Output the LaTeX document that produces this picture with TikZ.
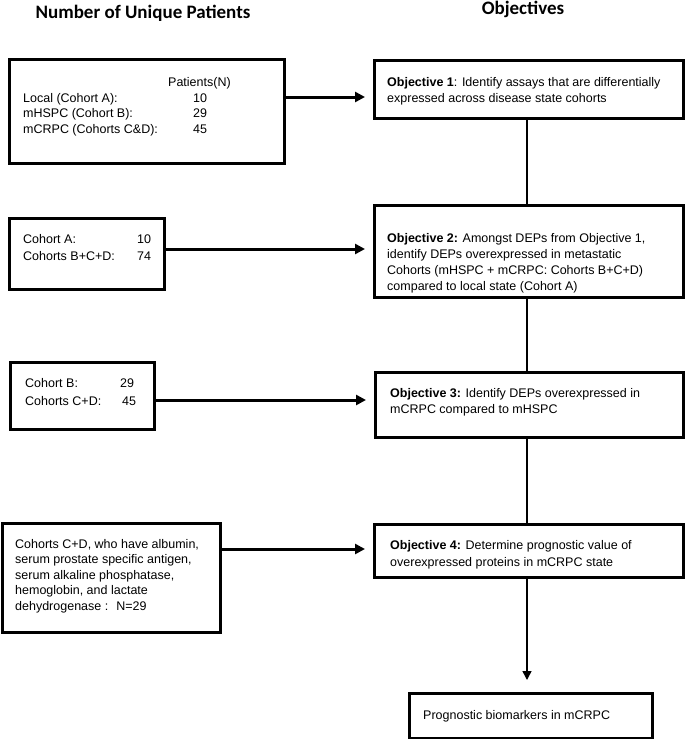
\documentclass[tikz,border=0pt]{standalone}
\usepackage{fontspec}
\setmainfont{Liberation Sans}
\newfontfamily\titlefont{Carlito}
\usetikzlibrary{arrows.meta}
\begin{document}
\begin{tikzpicture}[x=1pt,y=-1pt,
  box/.style={draw, line width=3pt, inner sep=0pt, outer sep=0pt, anchor=north west},
  txt/.style={anchor=base west, inner sep=0pt, font=\fontsize{12.5}{16}\selectfont, align=left},
  ttl/.style={font=\titlefont\bfseries\fontsize{19}{22}\selectfont, inner sep=0pt},
  harrow/.style={line width=3pt, -{Triangle[length=10pt,width=10pt]}, shorten >=9pt},
  vline/.style={line width=1.5pt},
  varrow/.style={line width=1.5pt, -{Triangle[length=9pt,width=9pt]}, shorten >=13pt},
]
\useasboundingbox (0,0) rectangle (685,739);
% titles
\node[ttl] (t1) at (143,13) {Number of Unique Patients};
\node[ttl] (t2) at (523,9) {Objectives};
% left boxes
\node[box, minimum width=275pt, minimum height=104pt] (L1) at (9,59) {};
\node[box, minimum width=155pt, minimum height=71pt] (L2) at (9,218) {};
\node[box, minimum width=144pt, minimum height=67pt] (L3) at (10,362) {};
\node[box, minimum width=218pt, minimum height=109pt] (L4) at (2,523) {};
% objective boxes
\node[box, minimum width=309pt, minimum height=58pt] (O1) at (374,60) {};
\node[box, minimum width=309pt, minimum height=92pt] (O2) at (374,205) {};
\node[box, minimum width=308pt, minimum height=65pt] (O3) at (375,372) {};
\node[box, minimum width=309pt, minimum height=53pt] (O4) at (374,524) {};
\node[box, minimum width=243pt, minimum height=45pt] (F) at (409,693) {};
% L1 text
\node[txt] (p0) at (168,86) {Patients(N)};
\node[txt] (p1) at (23,102) {Local (Cohort A):};
\node[txt] (p1n) at (193,102) {10};
\node[txt] (p2) at (23,117) {mHSPC (Cohort B):};
\node[txt] (p2n) at (193,117) {29};
\node[txt] (p3) at (23,133) {mCRPC (Cohorts C\&D):};
\node[txt] (p3n) at (193,133) {45};
% L2 text
\node[txt] (q1) at (23,243) {Cohort A:};
\node[txt] (q1n) at (137,243) {10};
\node[txt] (q2) at (23,260) {Cohorts B+C+D:};
\node[txt] (q2n) at (137,260) {74};
% L3 text
\node[txt] (r1) at (25,387) {Cohort B:};
\node[txt] (r1n) at (120,387) {29};
\node[txt] (r2) at (25,405) {Cohorts C+D:};
\node[txt] (r2n) at (122,405) {45};
% L4 text (anchor = baseline of last line)
\node[txt, font=\fontsize{12.5}{15.5}\selectfont] (s1) at (15,610) {Cohorts C+D, who have albumin,\\serum prostate specific antigen,\\serum alkaline phosphatase,\\hemoglobin, and lactate\\dehydrogenase :~ N=29};
% objective texts (anchor = baseline of last line)
\node[txt] (o1t) at (387,102) {\textbf{Objective 1}: Identify assays that are differentially\\expressed across disease state cohorts};
\node[txt] (o2t) at (387,290) {\textbf{Objective 2:} Amongst DEPs from Objective 1,\\identify DEPs overexpressed in metastatic\\Cohorts (mHSPC + mCRPC: Cohorts B+C+D)\\compared to local state (Cohort A)};
\node[txt] (o3t) at (390,413) {\textbf{Objective 3:} Identify DEPs overexpressed in\\mCRPC compared to mHSPC};
\node[txt, font=\fontsize{12.5}{17}\selectfont] (o4t) at (390,566) {\textbf{Objective 4:} Determine prognostic value of\\overexpressed proteins in mCRPC state};
\node[txt] (ft) at (423,719) {Prognostic biomarkers in mCRPC};
% arrow levels
\coordinate (a1) at (0,97);
\coordinate (a2) at (0,249);
\coordinate (a3) at (0,400);
\coordinate (a4) at (0,549);
\draw[harrow] (L1.east |- a1) -- (O1.west |- a1);
\draw[harrow] (L2.east |- a2) -- (O2.west |- a2);
\draw[harrow] (L3.east |- a3) -- (O3.west |- a3);
\draw[harrow] (L4.east |- a4) -- (O4.west |- a4);
% vertical connectors
\coordinate (vx) at (527,0);
\draw[vline] (vx |- O1.south) -- (vx |- O2.north);
\draw[vline] (vx |- O2.south) -- (vx |- O3.north);
\draw[vline] (vx |- O3.south) -- (vx |- O4.north);
\draw[varrow] (vx |- O4.south) -- (vx |- F.north);
\end{tikzpicture}
\end{document}
